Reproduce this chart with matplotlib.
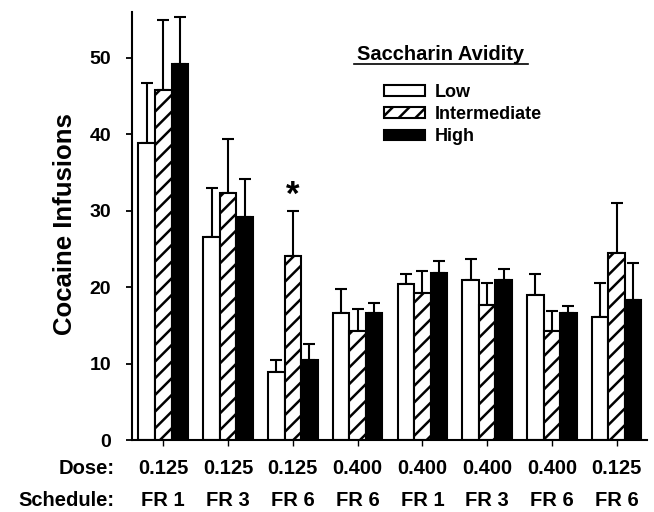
import matplotlib
matplotlib.use("Agg")
import matplotlib.pyplot as plt
import numpy as np
from matplotlib.lines import Line2D

plt.rcParams['font.family'] = ['Liberation Sans', 'DejaVu Sans']
plt.rcParams['font.weight'] = 'bold'
plt.rcParams['hatch.linewidth'] = 1.8

doses = ["0.125", "0.125", "0.125", "0.400", "0.400", "0.400", "0.400", "0.125"]
schedules = ["FR 1", "FR 3", "FR 6", "FR 6", "FR 1", "FR 3", "FR 6", "FR 6"]
series_names = ["Low", "Intermediate", "High"]

low_mean = [38.8, 26.5, 8.85, 16.6, 20.4, 20.9, 18.9, 16.1]
low_err = [7.9, 6.5, 1.65, 3.2, 1.3, 2.8, 2.8, 4.4]
mid_mean = [45.75, 32.3, 24.0, 14.25, 19.25, 17.7, 14.2, 24.4]
mid_err = [9.15, 7.1, 5.9, 2.85, 2.85, 2.8, 2.7, 6.6]
high_mean = [49.1, 29.1, 10.5, 16.55, 21.9, 20.9, 16.55, 18.3]
high_err = [6.2, 5.0, 2.0, 1.35, 1.5, 1.45, 0.95, 4.8]

fig = plt.figure(figsize=(6.54, 5.12), dpi=100)
ax = fig.add_axes([0.2018, 0.1406, 0.7875, 0.8365])

x = np.arange(len(doses))
w = 0.255
styles = [dict(color='white', hatch=None), dict(color='white', hatch='//'), dict(color='black', hatch=None)]
means = [low_mean, mid_mean, high_mean]
errs = [low_err, mid_err, high_err]
handles = []
for i, (m, e, st, name) in enumerate(zip(means, errs, styles, series_names)):
    pos = x + (i - 1) * w
    b = ax.bar(pos, m, width=w, color=st['color'], edgecolor='black', linewidth=1.5,
               hatch=st['hatch'], label=name, zorder=2)
    ax.errorbar(pos, m, yerr=[np.zeros(len(e)), e], fmt='none', ecolor='black',
                elinewidth=1.5, capsize=4.3, capthick=1.5, zorder=1)
    handles.append(b)

# significance marker on FR 6 / 0.125, intermediate group
ax.text(x[2], mid_mean[2] + mid_err[2] - 0.1, '*', ha='center', va='bottom',
        fontsize=25, fontweight='bold')

ax.set_xlim(-0.483, 7.468)
ax.set_ylim(0, 56)
ax.set_yticks([0, 10, 20, 30, 40, 50])
ax.set_xticks(x)
ax.set_xticklabels([])
ax.tick_params(axis='y', direction='out', length=4, width=1.3, labelsize=14, pad=11)
ax.tick_params(axis='x', direction='out', length=4, width=1.0)
for lab in ax.get_yticklabels():
    lab.set_fontweight('bold')
for s in ['top', 'right']:
    ax.spines[s].set_visible(False)
for s in ['left', 'bottom']:
    ax.spines[s].set_linewidth(1.5)

fig.text(65 / 654, 1 - 224 / 512, 'Cocaine Infusions', rotation=90, ha='center', va='center',
         fontsize=18.5, fontweight='bold')

trans = matplotlib.transforms.blended_transform_factory(ax.transData, fig.transFigure)
for xi, d, s in zip(x, doses, schedules):
    ax.text(xi, 1 - 468 / 512, d, transform=trans, ha='center', va='center', fontsize=14.5, fontweight='bold')
    ax.text(xi, 1 - 500 / 512, s, transform=trans, ha='center', va='center', fontsize=14.5, fontweight='bold')
fig.text(115 / 654, 1 - 468 / 512, 'Dose:', ha='right', va='center', fontsize=14.5, fontweight='bold')
fig.text(115 / 654, 1 - 500 / 512, 'Schedule:', ha='right', va='center', fontsize=14.5, fontweight='bold')

# legend
fig.text(441 / 654, 1 - 55 / 512, 'Saccharin Avidity', ha='center', va='center', fontsize=14.5, fontweight='bold')
fig.add_artist(Line2D([354 / 654, 528 / 654], [1 - 64 / 512, 1 - 64 / 512], color='black', linewidth=1.2))
leg = fig.legend(handles=handles, labels=series_names, loc='upper left',
                 bbox_to_anchor=(380 / 654, 1 - 80 / 512), frameon=False, fontsize=13,
                 handlelength=2.3, handleheight=0.55, handletextpad=0.55, labelspacing=0.3,
                 borderaxespad=0, borderpad=0.2)
for t in leg.get_texts():
    t.set_fontweight('bold')

fig.savefig('out.png', dpi=100)
